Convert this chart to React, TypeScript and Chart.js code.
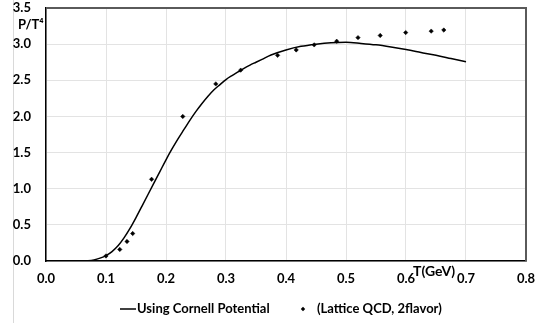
import React, { useEffect, useRef } from "react";
import { Chart, registerables } from "chart.js";

Chart.register(...registerables);

const curveT = [0.05, 0.06, 0.07, 0.08, 0.09, 0.1, 0.11, 0.12, 0.13, 0.14, 0.15, 0.16, 0.17, 0.18, 0.19, 0.2, 0.21, 0.22, 0.23, 0.24, 0.25, 0.26, 0.27, 0.28, 0.29, 0.3, 0.31, 0.32, 0.33, 0.34, 0.35, 0.36, 0.375, 0.4, 0.425, 0.45, 0.475, 0.5, 0.525, 0.55, 0.575, 0.6, 0.625, 0.65, 0.675, 0.7];
const curveP = [0, 0, 0.003, 0.015, 0.04, 0.075, 0.13, 0.21, 0.32, 0.45, 0.6, 0.76, 0.92, 1.08, 1.24, 1.4, 1.55, 1.69, 1.82, 1.95, 2.07, 2.18, 2.28, 2.37, 2.44, 2.51, 2.565, 2.615, 2.665, 2.71, 2.75, 2.79, 2.85, 2.92, 2.97, 3.0, 3.02, 3.025, 3.01, 2.99, 2.96, 2.925, 2.885, 2.845, 2.8, 2.755];

const latticeT = [0.1, 0.123, 0.135, 0.1445, 0.176, 0.228, 0.283, 0.3245, 0.386, 0.417, 0.447, 0.4845, 0.52, 0.557, 0.5995, 0.642, 0.663];
const latticeP = [0.07, 0.16, 0.27, 0.38, 1.13, 2.0, 2.45, 2.64, 2.845, 2.92, 2.99, 3.04, 3.09, 3.12, 3.16, 3.18, 3.195];

const seriesNames = ["Using Cornell Potential", "(Lattice QCD, 2flavor)"];
const yTitle = "P/T\u2074";
const xTitle = "T(GeV)";

const FONT = "Lato, 'Open Sans', sans-serif";

export default function App() {
  const ref = useRef<HTMLCanvasElement | null>(null);

  useEffect(() => {
    if (!ref.current) return;
    const extras = {
      id: "extras",
      beforeDraw(chart: any) {
        const ctx = chart.ctx;
        ctx.save();
        ctx.strokeStyle = "#d9d9d9";
        ctx.lineWidth = 1;
        ctx.beginPath();
        ctx.moveTo(13.5, 0);
        ctx.lineTo(13.5, chart.height);
        ctx.stroke();
        ctx.restore();
      },
      afterDraw(chart: any) {
        const ctx = chart.ctx;
        const a = chart.chartArea;
        ctx.save();
        // plot frame top/right
        ctx.strokeStyle = "#5a5a5a";
        ctx.lineWidth = 2;
        ctx.beginPath();
        ctx.moveTo(a.left, a.top);
        ctx.lineTo(a.right, a.top);
        ctx.lineTo(a.right, a.bottom);
        ctx.stroke();
        // axis titles
        ctx.fillStyle = "#000";
        ctx.font = `bold 13px ${FONT}`;
        ctx.textBaseline = "middle";
        ctx.textAlign = "left";
        ctx.fillText(yTitle, 18, 25);
        ctx.font = `bold 14px ${FONT}`;
        const xs = chart.scales.x;
        ctx.fillText(xTitle, xs.getPixelForValue(0.6) + 7, a.bottom + 10);
        // legend
        const ly = 309;
        ctx.font = `bold 13px ${FONT}`;
        ctx.strokeStyle = "#000";
        ctx.lineWidth = 1.5;
        ctx.beginPath();
        ctx.moveTo(120, ly);
        ctx.lineTo(136, ly);
        ctx.stroke();
        ctx.fillText(seriesNames[0], 137, ly);
        ctx.fillStyle = "#000";
        ctx.beginPath();
        const cx = 303;
        const r = 2.2;
        ctx.moveTo(cx, ly - r);
        ctx.lineTo(cx + r, ly);
        ctx.lineTo(cx, ly + r);
        ctx.lineTo(cx - r, ly);
        ctx.closePath();
        ctx.fill();
        ctx.fillText(seriesNames[1], 317, ly);
        ctx.restore();
      },
    };

    const chart = new Chart(ref.current, {
      type: "scatter",
      data: {
        datasets: [
          {
            label: seriesNames[0],
            data: curveT.map((t, i) => ({ x: t, y: curveP[i] })),
            showLine: true,
            borderColor: "#000",
            backgroundColor: "#000",
            borderWidth: 1.5,
            pointRadius: 0,
            pointHoverRadius: 0,
            cubicInterpolationMode: "monotone",
          },
          {
            label: seriesNames[1],
            data: latticeT.map((t, i) => ({ x: t, y: latticeP[i] })),
            showLine: false,
            borderColor: "#000",
            backgroundColor: "#000",
            pointStyle: "rectRot",
            pointRadius: 2.2,
            borderWidth: 0.5,
          },
        ],
      },
      options: {
        animation: false,
        responsive: true,
        maintainAspectRatio: false,
        layout: { padding: { left: 0, right: 12, top: 8, bottom: 22 } },
        plugins: {
          tooltip: { enabled: false },
          legend: { display: false },
        },
        scales: {
          x: {
            type: "linear",
            min: 0,
            max: 0.8,
            ticks: {
              stepSize: 0.1,
              color: "#000",
              padding: 10,
              font: { family: FONT, size: 13, weight: "bold" },
              callback: (v: any) => Number(v).toFixed(1),
            },
            grid: { color: "#e3e3e3", lineWidth: 1, drawTicks: false },
            border: { color: "#000", width: 1.5 },
            afterFit: (s: any) => {
              s.height = 40;
              s.paddingLeft = 0;
              s.paddingRight = 0;
            },
          },
          y: {
            min: 0,
            max: 3.5,
            ticks: {
              stepSize: 0.5,
              color: "#000",
              padding: 15,
              font: { family: FONT, size: 13, weight: "bold" },
              callback: (v: any) => Number(v).toFixed(1),
            },
            grid: { color: "#e3e3e3", lineWidth: 1, drawTicks: false },
            border: { color: "#000", width: 1.5 },
            afterFit: (s: any) => {
              s.width = 46;
              s.paddingTop = 0;
              s.paddingBottom = 0;
            },
          },
        },
      },
      plugins: [extras],
    } as any);
    return () => chart.destroy();
  }, []);

  return (
    <div style={{ position: "absolute", left: 0, top: 0, width: 538, height: 323, background: "#fff" }}>
      <canvas ref={ref} />
    </div>
  );
}
